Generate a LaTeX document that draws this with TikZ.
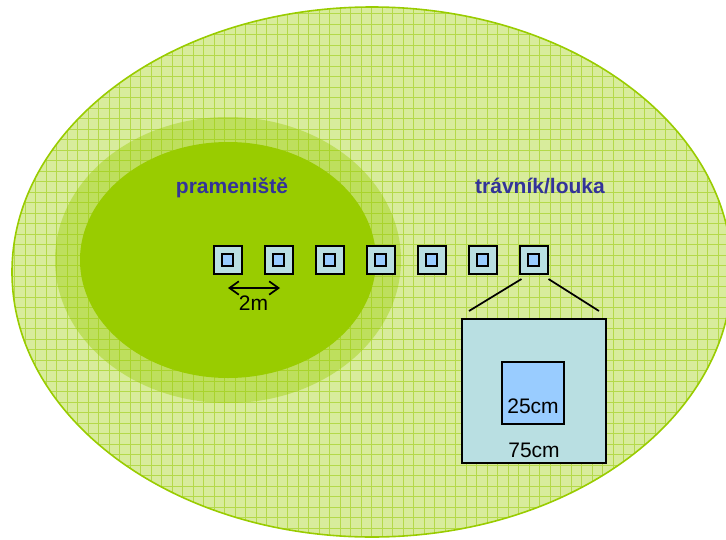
\documentclass[tikz,border=0pt]{standalone}
\usepackage{fontspec}
\setmainfont{Liberation Sans}
\usetikzlibrary{arrows.meta}
\definecolor{leaf}{HTML}{99CC00}
\definecolor{meadow}{HTML}{D8EC9C}
\definecolor{meshline}{HTML}{B4D94A}
\definecolor{plotcyan}{HTML}{B9DFE2}
\definecolor{corecyan}{HTML}{99CCFF}
\definecolor{labelblue}{HTML}{333399}
\tikzset{
  plotbox/.style={draw=black, line width=1.5pt, fill=plotcyan, minimum size=21pt, inner sep=0pt},
  corebox/.style={draw=black, line width=1.2pt, fill=corecyan, minimum size=8.6pt, inner sep=0pt},
  bigplot/.style={draw=black, line width=1.5pt, fill=plotcyan, minimum size=108pt, inner sep=0pt},
  bigcore/.style={draw=black, line width=1.5pt, fill=corecyan, minimum size=46.5pt, inner sep=0pt},
  meshline/.style={draw=meshline, line width=0.5pt},
  zonelabel/.style={text=labelblue, font=\fontsize{15.75}{18}\selectfont\bfseries, anchor=base, inner sep=0pt},
  dimlabel/.style={text=black, font=\fontsize{15.75}{18}\selectfont, anchor=base, inner sep=0pt},
  link/.style={draw=black, line width=1.3pt},
  span/.style={draw=black, line width=1.3pt, {Straight Barb[length=7pt,width=10pt]}-{Straight Barb[length=7pt,width=10pt]}}
}
\begin{document}
\begin{tikzpicture}[x=0.75pt, y=-0.75pt]
\useasboundingbox (0,0) rectangle (726,540);
\begin{scope}
  \clip (0,0) rectangle (726,540);
  % meadow: light green field with a fine mesh
  \fill[meadow] (372,272) ellipse [x radius=360, y radius=265];
  \begin{scope}
    \clip (372,272) ellipse [x radius=360, y radius=265];
    \foreach \gx in {4,14.5,...,740} \draw[meshline] (\gx,0) -- (\gx,540);
    \foreach \gy in {3,13.5,...,540} \draw[meshline] (0,\gy) -- (740,\gy);
  \end{scope}
  \draw[leaf, line width=1.2pt] (372,272) ellipse [x radius=360, y radius=265];
  % transition zone around the spring area
  \fill[leaf, opacity=0.4] (228,260) ellipse [x radius=173, y radius=143];
  % spring area
  \fill[leaf] (228,260) ellipse [x radius=148, y radius=118];
\end{scope}

\node[zonelabel] (spring) at (232,193) {prameniště};
\node[zonelabel] (meadowlbl) at (540,193) {trávník/louka};

% row of sampling plots, 2 m apart
\foreach \i/\px in {1/227.5,2/278.5,3/329.5,4/380.5,5/431.5,6/482.5,7/533.5}{
  \node[plotbox] (p\i) at (\px,260) {};
  \node[corebox] (c\i) at (\px,260) {};
}

\draw[span] ([shift={(0.5,13)}]p1.south) -- ([shift={(1.5,13)}]p2.south)
  coordinate[midway] (spanmid);
\node[dimlabel] (twom) at ([shift={(-0.5,22)}]spanmid) {2m};

% enlarged plot detail
\node[bigplot] (big) at (534,391) {};
\node[bigcore] (core) at (533,392.5) {};
\node[dimlabel] (coresize) at (533,413) {25cm};
\node[dimlabel] (plotsize) at (534,457) {75cm};

\draw[link] ([shift={(3,4)}]p7.south west) -- ([shift={(8,-7)}]big.north west);
\draw[link] ([shift={(0,4)}]p7.south east) -- ([shift={(-8,-7)}]big.north east);
\end{tikzpicture}
\end{document}
